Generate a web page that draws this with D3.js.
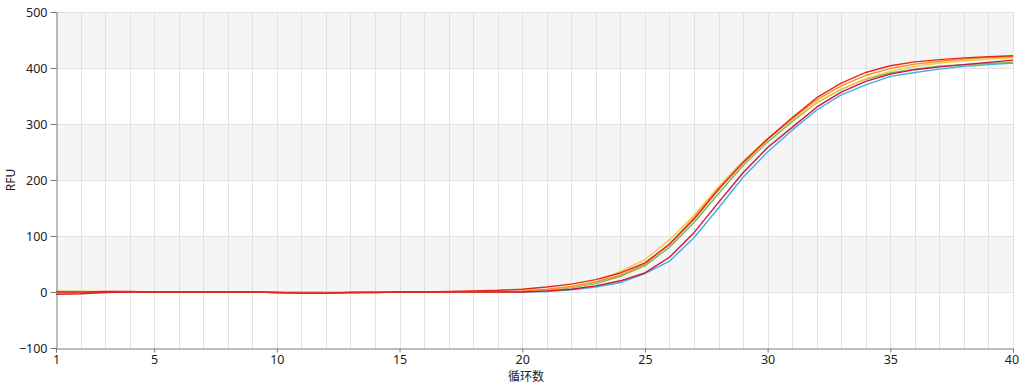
<!DOCTYPE html>
<html><head><meta charset="utf-8">
<script src="https://cdn.jsdelivr.net/npm/d3@7"></script>
<style>
html,body{margin:0;padding:0;background:#fff;}
svg{display:block;font-family:"Noto Sans","Open Sans",sans-serif;}
</style></head>
<body><svg id="c" width="1019" height="384"></svg>
<script>
const cycles = d3.range(1, 41);
const xTicks = [1, 5, 10, 15, 20, 25, 30, 35, 40];
const yTicks = [-100, 0, 100, 200, 300, 400, 500];
const seriesNames = ["blue", "green", "yellow", "orange", "crimson", "red"];
const seriesColors = ["#3fb0e0", "#6cb85a", "#f5c84a", "#f7901e", "#d2143a", "#e8261e"];
const blue    = [0,0,0,0,0,0,0,0,0,-1,-1,-1,-1,0,0,0,0,0,0, 0,1,4,9,17,33,55,97,150,205,250,289,325,352,370,385,392,398,403,406,409];
const green   = [1,1,0,0,0,0,0,0,0,-1,-1,-2,-1,0,0,0,0,0,0, 1,3,8,15,28,47,80,124,176,226,268,304,338,362,380,391,398,403,406,408,410];
const yellow  = [1,1,1,0,0,0,0,0,0,0,-1,-1,-1,0,0,0,0,0,0, 1,4,9,17,37,58,93,137,188,234,274,307,338,362,381,394,403,409,413,416,418];
const orange  = [0,0,0,0,0,0,0,0,0,-1,-1,-1,-1,0,0,0,0,1,1, 2,5,10,18,30,50,86,133,185,232,273,310,343,368,387,399,407,412,416,419,420];
const crimson = [-4,-3,-1,0,0,0,0,0,0,-1,-2,-2,-1,-1,0,0,0,0,0, 0,2,5,11,20,34,62,106,160,213,258,294,330,357,376,389,397,402,406,410,414];
const red     = [0,0,1,1,0,0,0,0,0,-1,-2,-2,-1,-1,0,0,1,2,3, 5,9,14,22,34,52,85,130,183,231,273,311,347,373,392,404,411,415,418,420,422];
const seriesValues = [blue, green, yellow, orange, crimson, red];

const svg = d3.select("#c");
const m = {l:56, r:1013, t:12, b:348};
const x = d3.scaleLinear().domain([1,40]).range([m.l, m.r]);
const y = d3.scaleLinear().domain([-100,500]).range([m.b, m.t]);

// bands
const bands = [[400,500],[200,300],[0,100]];
svg.append("g").selectAll("rect").data(bands).join("rect")
  .attr("x", x(1)).attr("width", x(40)-x(1))
  .attr("y", d=>y(d[1])).attr("height", d=>y(d[0])-y(d[1]))
  .attr("fill", "#f5f5f5");

// grid
svg.append("g").selectAll("line").data(cycles.slice(1)).join("line")
  .attr("x1", d=>Math.round(x(d))+0.5).attr("x2", d=>Math.round(x(d))+0.5)
  .attr("y1", y(500)).attr("y2", y(-100))
  .attr("stroke", "#e2e2e2").attr("stroke-width", 1);
svg.append("g").selectAll("line").data(yTicks.slice(1)).join("line")
  .attr("x1", x(1)).attr("x2", x(40))
  .attr("y1", d=>Math.round(y(d))+0.5).attr("y2", d=>Math.round(y(d))+0.5)
  .attr("stroke", "#e2e2e2").attr("stroke-width", 1);

// lines
const line = d3.line().x((d,i)=>x(cycles[i])).y(d=>y(d)).curve(d3.curveLinear);
svg.append("g").selectAll("path").data(seriesValues).join("path")
  .attr("d", d=>line(d)).attr("fill","none")
  .attr("stroke", (d,i)=>seriesColors[i]).attr("stroke-width", 1.4)
  .attr("stroke-linejoin","round");

// axes
const xAxis = d3.axisBottom(x).tickValues(xTicks).tickSize(4).tickPadding(3);
const gx = svg.append("g").attr("transform", `translate(0,${Math.round(y(-100))+0.5})`).call(xAxis);
const yAxis = d3.axisLeft(y).tickValues(yTicks).tickSize(6).tickPadding(3);
const gy = svg.append("g").attr("transform", `translate(${Math.round(x(1))+0.5},0)`).call(yAxis);
[gx, gy].forEach(g=>{
  g.select(".domain").attr("stroke", "#7a7a7a");
  g.selectAll(".tick line").attr("stroke", "#7a7a7a");
  g.selectAll(".tick text").attr("fill", "#222").style("font-size", "12.5px")
   .style("font-family", '"Noto Sans","Open Sans",sans-serif');
});
gx.selectAll(".tick").filter(d=>d===40).select("text").attr("text-anchor","end").attr("dx","0.45em");

svg.append("text").attr("x", 526).attr("y", 381).attr("text-anchor","middle")
  .style("font-size","12px").style("font-family",'"Noto Sans CJK SC",sans-serif').attr("fill","#222").text("循环数");
svg.append("text").attr("transform", `translate(15,${y(200)}) rotate(-90)`).attr("text-anchor","middle")
  .style("font-size","12px").attr("fill","#222").text("RFU");
</script></body></html>
